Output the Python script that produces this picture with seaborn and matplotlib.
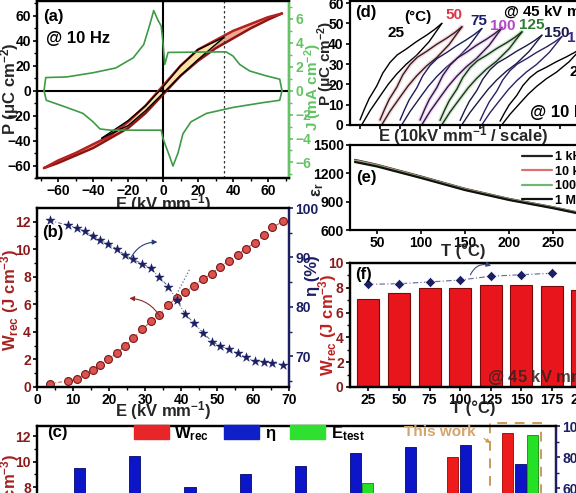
import numpy as np
import pandas as pd
import seaborn as sns
import matplotlib.pyplot as plt
from matplotlib.patches import Rectangle, Patch

W, H = 576, 493

# ---------------- data ----------------
# (a) bipolar P-E loop (outer, 68 kV/mm) and inner loop (35 kV/mm), 10 Hz
pe_rise_E = [-68, -60, -40, -20, -10, 0, 10, 20, 30, 40, 50, 60, 68]
pe_rise_P = [-62, -58, -46, -30, -18, -3, 12, 24, 34, 42, 50, 57, 62]
pe_fall_E = [68, 60, 40, 20, 10, 0, -10, -20, -30, -40, -50, -60, -68]
pe_fall_P = [62, 59, 48, 33, 20, 4, -12, -25, -36, -43, -50, -56, -62]
pe_in_rise_E = [-35, -20, -10, 0, 10, 20, 35]
pe_in_rise_P = [-38, -28, -16, -2, 12, 25, 43]
pe_in_fall_E = [35, 20, 10, 0, -10, -20, -35]
pe_in_fall_P = [43, 33, 20, 3, -12, -24, -38]
# current density J-E
j_rise_E = [-68, -67, -55, -40, -27, -17, -11, -7.6, -5.3, -2.9, -1, 0, 1, 2.9, 36, 40, 43.8, 49.5, 59, 66.7, 68]
j_rise_J = [0, 1.1, 1.15, 1.5, 1.9, 2.75, 3.86, 5.5, 6.7, 5.9, 5.4, 4.0, 2.2, 3.2, 3.25, 2.9, 2.2, 1.65, 1.24, 0.96, 0]
j_fall_E = [68, 66.7, 57, 40, 24.8, 16, 11.4, 8.6, 5.7, 3.8, 1, 0, -1, -30, -36, -40, -45.7, -55, -66.7, -68]
j_fall_J = [0, -0.8, -1.0, -1.4, -1.9, -2.6, -3.6, -5.2, -6.3, -5.5, -4.4, -4.0, -3.3, -3.3, -3.2, -2.6, -1.9, -1.4, -0.8, 0]

# (b) W_rec and eta vs E
b_E = [3.5, 8.6, 11.0, 13.3, 15.6, 17.5, 19.8, 22.1, 24.4, 26.7, 29.3, 31.6, 34.0, 36.5,
       38.8, 41.1, 43.5, 46.1, 48.6, 50.9, 53.2, 55.7, 58.1, 60.6, 63.0, 65.3, 68.3]
b_W = [0.24, 0.44, 0.61, 0.93, 1.22, 1.59, 2.0, 2.44, 2.98, 3.54, 4.2, 4.76, 5.24, 5.98,
       6.46, 6.88, 7.32, 7.85, 8.24, 8.73, 9.15, 9.61, 10.05, 10.49, 11.02, 11.59, 12.02]
b_eta = [97.5, 96.5, 96.0, 95.3, 94.4, 93.5, 92.8, 91.7, 90.5, 89.6, 88.7, 87.8, 86.0, 84.1,
         81.4, 78.6, 76.8, 74.8, 73.0, 72.1, 71.4, 70.6, 69.8, 69.0, 68.8, 68.7, 68.3]

# (d) unipolar loops at 45 kV/mm, 25 C loop shape + end polarisation per temperature
d_temps = [25, 50, 75, 100, 125, 150, 175, 200]
d_pmax = [50, 48.3, 47.5, 47.8, 45.8, 44.2, 43.5, 38]
d_dis_E = [0, 2.5, 5, 9.2, 12.5, 16.5, 20.5, 25.6, 31, 36.6, 41, 45]
d_dis_P = [2.5, 8, 13, 19.2, 25.5, 30.8, 34.5, 37.5, 41, 44.2, 47, 50]
d_chg_E = [0.9, 5.5, 11, 15.5, 20.1, 25.5, 31, 38, 45]
d_chg_P = [0, 7, 14.2, 20, 25, 30, 34.2, 41, 50]
d_shift = 11

# (e) permittivity vs T
e_T = [25, 50, 100, 150, 200, 250, 280]
e_1k = [1342, 1290, 1166, 1036, 929, 841, 781]
e_10k = [1336, 1285, 1161, 1032, 925, 838, 778]
e_100k = [1330, 1280, 1157, 1028, 922, 835, 776]
e_1M = [1320, 1273, 1151, 1023, 918, 831, 773]

# (f) W_rec and eta vs T at 45 kV/mm
f_T = ['25', '50', '75', '100', '125', '150', '175', '200']
f_W = [7.12, 7.58, 8.0, 7.96, 8.25, 8.2, 8.12, 7.85]
f_eta = [82.8, 83.3, 84.7, 86.3, 89.3, 90.6, 91.7, np.nan]

# (c) comparison with other works
c_W = [np.nan] * 7 + [10.4, 12.25]
c_eta = [72.9, 80.9, 60.4, 69.3, 74.4, 82.8, 86.2, 88.0, 75.3]
c_Etest = [np.nan] * 5 + [63.2, np.nan, np.nan, 94.0]

# ---------------- style ----------------
sns.set_theme(style="ticks")
plt.rcParams['font.family'] = ['Liberation Sans', 'DejaVu Sans']
plt.rcParams.update({
    'font.weight': 'bold', 'axes.labelweight': 'bold',
    'mathtext.fontset': 'custom', 'mathtext.bf': 'Liberation Sans:bold',
    'mathtext.rm': 'Liberation Sans:bold', 'mathtext.it': 'Liberation Sans:bold:italic',
    'mathtext.default': 'bf',
    'axes.linewidth': 1.6, 'axes.edgecolor': 'black',
    'xtick.color': 'black', 'ytick.color': 'black', 'text.color': 'black',
    'xtick.labelsize': 10, 'ytick.labelsize': 10,
    'xtick.major.size': 3, 'ytick.major.size': 3,
    'xtick.minor.size': 2, 'ytick.minor.size': 2,
    'xtick.major.width': 1.2, 'ytick.major.width': 1.2,
    'xtick.major.pad': 1.0, 'ytick.major.pad': 1.5,
})

fig = plt.figure(figsize=(5.76, 4.93), dpi=100)


def rect(x0, y0, x1, y1):
    return [x0 / W, 1 - y1 / H, (x1 - x0) / W, (y1 - y0) / H]


def ftext(x, y, s, **kw):
    kw.setdefault('va', 'center')
    fig.text(x / W, 1 - y / H, s, **kw)


def put_label(ax, axis, x, y):
    pos = ax.get_position()
    fx = (x / W - pos.x0) / pos.width
    fy = ((1 - y / H) - pos.y0) / pos.height
    (ax.xaxis if axis == 'x' else ax.yaxis).set_label_coords(fx, fy)


RED = '#a52222'
NAVY = '#1b1f63'
GREEN_L = '#62c462'
LAB = 12

# ---------------- (a) ----------------
axa = fig.add_axes(rect(37, 1, 289, 178))
axa.fill(pe_rise_E + pe_fall_E, pe_rise_P + pe_fall_P, color='#f0a890', lw=0)
axa.fill(pe_in_rise_E + pe_in_fall_E, pe_in_rise_P + pe_in_fall_P, color='#f8e2a4', lw=0)
sns.lineplot(x=pe_rise_E, y=pe_rise_P, sort=False, color='#8e1414', lw=1.8, ax=axa)
sns.lineplot(x=pe_fall_E, y=pe_fall_P, sort=False, color='#b52020', lw=1.8, ax=axa)
sns.lineplot(x=pe_in_rise_E, y=pe_in_rise_P, sort=False, color='black', lw=1.0, ax=axa)
sns.lineplot(x=pe_in_fall_E, y=pe_in_fall_P, sort=False, color='black', lw=1.0, ax=axa)
axa.axhline(0, color='black', lw=1.5, zorder=1)
axa.axvline(0, color='black', lw=1.5, zorder=1)
axa.axvline(35, color='#333333', lw=0.9, ls=(0, (2, 2)))
axa.set_xlim(-72, 72)
axa.set_ylim(-70, 72)
axa.set_xticks(range(-60, 61, 20))
axa.set_xticks(range(-70, 71, 10), minor=True)
axa.set_yticks(range(-60, 61, 20))
axa.set_yticks(range(-70, 71, 10), minor=True)
axa.set_xlabel('E (kV mm$^{-1}$)', fontsize=LAB, va='center')
axa.set_ylabel('P (μC cm$^{-2}$)', fontsize=LAB, va='center')
put_label(axa, 'x', 163, 204)
put_label(axa, 'y', 10, 89)

axj = axa.twinx()
sns.lineplot(x=j_rise_E, y=j_rise_J, sort=False, color='#3f9a45', lw=1.2, ax=axj)
sns.lineplot(x=j_fall_E, y=j_fall_J, sort=False, color='#3f9a45', lw=1.2, ax=axj)
axj.set_ylim(-7.3, 7.5)
axj.set_yticks(range(-6, 7, 2))
axj.set_yticks(range(-7, 8, 1), minor=True)
axj.spines['right'].set_color(GREEN_L)
axj.tick_params(axis='y', which='both', colors=GREEN_L)
axj.set_ylabel('J (mA cm$^{-2}$)', fontsize=11, color=GREEN_L, va='center')
put_label(axj, 'y', 313, 87)
ftext(43, 16, '(a)', fontsize=12)
ftext(46, 38, '@ 10 Hz', fontsize=12)

# ---------------- (b) ----------------
axb = fig.add_axes(rect(37, 208, 289, 387))
sns.lineplot(x=b_E, y=b_W, color='#c05050', lw=0.7, ls=(0, (4, 2, 1, 2)), ax=axb)
sns.scatterplot(x=b_E, y=b_W, color='#d9534f', edgecolor='#7d1414', linewidth=0.8, s=32, ax=axb, zorder=3)
axb.plot([37.9, 42.5], [6.3, 8.6], ls=':', color='#5a6a8a', lw=0.9)
axb.annotate('', xy=(24.9, 6.45), xytext=(34.6, 4.9),
             arrowprops=dict(arrowstyle='-|>', color='#8a2a2a', lw=0.8, mutation_scale=7,
                             connectionstyle='arc3,rad=0.3'))
axb.set_xlim(0, 70)
axb.set_ylim(0, 13)
axb.set_xticks(range(0, 71, 10))
axb.set_xticks(range(5, 70, 10), minor=True)
axb.set_yticks(range(0, 13, 2))
axb.set_yticks(range(1, 13, 2), minor=True)
axb.tick_params(axis='y', which='both', labelcolor='#8b1a1a')
axb.set_xlabel('E (kV mm$^{-1}$)', fontsize=LAB, va='center')
axb.set_ylabel('W$_{rec}$ (J cm$^{-3}$)', fontsize=LAB, color=RED, va='center')
put_label(axb, 'x', 163, 411)
put_label(axb, 'y', 10, 300)

axbe = axb.twinx()
sns.lineplot(x=b_E, y=b_eta, color='#55608a', lw=0.7, ls=(0, (4, 2, 1, 2)), ax=axbe)
sns.scatterplot(x=b_E, y=b_eta, marker='*', color=NAVY, edgecolor=NAVY, linewidth=0.3, s=48, ax=axbe, zorder=3)
axbe.annotate('', xy=(34.2, 93.1), xytext=(25.6, 89.2),
              arrowprops=dict(arrowstyle='-|>', color='#2a3a7a', lw=0.8, mutation_scale=7,
                              connectionstyle='arc3,rad=-0.35'))
axbe.set_ylim(63.8, 100)
axbe.set_yticks([70, 80, 90, 100])
axbe.set_yticks([65, 75, 85, 95], minor=True)
axbe.spines['right'].set_color(NAVY)
axbe.tick_params(axis='y', which='both', colors=NAVY)
axbe.set_ylabel('η (%)', fontsize=LAB, color=NAVY, va='center')
put_label(axbe, 'y', 312, 276)
ftext(42, 233, '(b)', fontsize=12)

# ---------------- (d) ----------------
axd = fig.add_axes(rect(350, 1, 662, 125))
d_line = ['black', '#2b1f2b', '#1c1c5c', '#2a1a3a', '#1f2f1f', '#1a1a4a', '#2c2266', 'black']
d_halo = [None, '#f08a8a', None, '#d48ae6', '#7cc47c', None, None, None]
for i, pm in enumerate(d_pmax):
    k = pm / d_pmax[0]
    off = i * d_shift
    xs1 = [e + off for e in d_dis_E]
    ys1 = [p * k for p in d_dis_P]
    xs2 = [e + off for e in d_chg_E]
    ys2 = [p * k for p in d_chg_P]
    if d_halo[i]:
        for xs, ys in ((xs1, ys1), (xs2, ys2)):
            axd.plot(xs, ys, color=d_halo[i], lw=3.0, alpha=0.35, solid_capstyle='round')
    sns.lineplot(x=xs1, y=ys1, sort=False, color=d_line[i], lw=1.0, ax=axd)
    sns.lineplot(x=xs2, y=ys2, sort=False, color=d_line[i], lw=1.0, ax=axd)
axd.set_xlim(-5.5, 166)
axd.set_ylim(0, 61)
axd.set_yticks(range(0, 61, 10))
axd.set_xticks(range(0, 166, d_shift))
axd.set_xticklabels([])
axd.set_xlabel('E (10kV mm$^{-1}$ / scale)', fontsize=LAB, va='center')
axd.set_ylabel('P (μC cm$^{-2}$)', fontsize=11, va='center')
put_label(axd, 'x', 463, 136)
put_label(axd, 'y', 326, 63)
ftext(355, 12, '(d)', fontsize=12)
ftext(404, 17, '(°C)', fontsize=11)
ftext(388, 33, '25', fontsize=11)
ftext(445, 15, '50', fontsize=11, color='#d83a4a')
ftext(470, 21, '75', fontsize=11, color='#1c1c6c')
ftext(490, 26, '100', fontsize=11, color='#b547c8')
ftext(519, 25, '125', fontsize=11, color='#2e7d32')
ftext(544, 33, '150', fontsize=11, color='#1a1a4a')
ftext(567, 38, '175', fontsize=11, color='#3a2a8a')
ftext(570, 72, '200', fontsize=11)
ftext(503, 12, '@ 45 kV mm$^{-1}$', fontsize=11)
ftext(530, 112, '@ 10 Hz', fontsize=12)

# ---------------- (e) ----------------
axe = fig.add_axes(rect(350, 145, 662, 230))
e_freq = ['1 kHz', '10 kHz', '100 kHz', '1 MHz']
e_df = pd.DataFrame({
    'T': e_T * 4,
    'eps': e_1k + e_10k + e_100k + e_1M,
    'f': [f for f in e_freq for _ in e_T],
})
sns.lineplot(data=e_df, x='T', y='eps', hue='f', hue_order=e_freq,
             palette=['#222222', '#e07070', '#70b870', '#111111'], lw=1.6, ax=axe)
axe.set_xlim(19.3, 373.8)
axe.set_ylim(600, 1500)
axe.set_xticks(range(50, 351, 50))
axe.set_yticks([600, 900, 1200, 1500])
axe.legend(loc='upper left', bbox_to_anchor=(0.53, 1.0), frameon=False, fontsize=9,
           handlelength=2.4, handletextpad=0.3, labelspacing=0.2, borderpad=0)
axe.set_xlabel('T (°C)', fontsize=LAB, va='center')
axe.set_ylabel('ε$_r$', fontsize=LAB, va='center')
put_label(axe, 'x', 463, 251)
put_label(axe, 'y', 318, 190)
ftext(356, 177, '(e)', fontsize=12)

# ---------------- (f) ----------------
axf = fig.add_axes(rect(350, 263, 662, 387))
sns.barplot(x=f_T, y=f_W, color='#e8161c', saturation=1, edgecolor='#7a0a0a', linewidth=0.8,
            width=0.72, ax=axf)
axf.set_xlim(-0.6, 9.6)
axf.set_ylim(0, 10)
axf.set_yticks(range(0, 11, 2))
axf.set_yticks(range(1, 10, 2), minor=True)
axf.tick_params(axis='y', which='both', labelcolor='#8b1a1a')
axf.set_xlabel('T (°C)', fontsize=LAB, va='center')
axf.set_ylabel('W$_{rec}$ (J cm$^{-3}$)', fontsize=LAB, color='#c01f1f', va='center')
put_label(axf, 'x', 473, 408)
put_label(axf, 'y', 328, 325)
axf2 = axf.twinx()
f_pos = list(range(len(f_T)))
sns.lineplot(x=f_pos, y=f_eta, color='#5a6a9a', lw=0.8, ls=(0, (5, 2, 1, 2)), ax=axf2)
sns.scatterplot(x=f_pos, y=f_eta, marker='D', color=NAVY, s=28, ax=axf2, zorder=3)
axf2.annotate('', xy=(4.1, 97), xytext=(3.3, 88.5),
              arrowprops=dict(arrowstyle='-|>', color='#3a4a7a', lw=0.8, mutation_scale=7,
                              connectionstyle='arc3,rad=-0.5'))
axf2.set_ylim(0, 100)
axf2.set_xlim(-0.6, 9.6)
ftext(355, 275, '(f)', fontsize=12)
ftext(487, 377, '@ 45 kV mm$^{-1}$', fontsize=12, color='#3a2020', alpha=0.85)

# ---------------- (c) ----------------
axc = fig.add_axes(rect(37, 426, 556, 589))
c_pos = np.arange(len(c_eta))
axc.bar(c_pos - 0.227, c_W, width=0.2, color='#ee1b1b', edgecolor='#a00000', linewidth=0.6)
axc.set_xlim(-0.78, 8.65)
axc.set_ylim(0, 12.8)
axc.set_yticks(range(0, 13, 2))
axc.set_yticks(range(1, 13, 2), minor=True)
axc.set_xticks([])
axc.tick_params(axis='y', which='both', labelcolor='#8b1a1a')
axc.set_ylabel('W$_{rec}$ (J cm$^{-3}$)', fontsize=LAB, color=RED, va='center')
put_label(axc, 'y', 10, 505)
axc2 = axc.twinx()
axc2.bar(c_pos, c_eta, width=0.2, color='#0c16c8', edgecolor='#00086a', linewidth=0.6)
axc2.bar(c_pos + 0.227, c_Etest, width=0.2, color='#26e026', edgecolor='#0a8a0a', linewidth=0.6)
axc2.set_ylim(-5, 100)
axc2.set_yticks(range(0, 101, 20))
axc2.set_yticks(range(10, 100, 20), minor=True)
axc2.spines['right'].set_color(NAVY)
axc2.tick_params(axis='y', which='both', colors=NAVY)
axc2.add_patch(Rectangle((7.45, -4), 0.93, 106, fill=False, ls=(0, (5, 4)), lw=1.4,
                         edgecolor='#c99a5a', clip_on=False))
axc2.annotate('', xy=(7.5, 88), xytext=(7.3, 93),
              arrowprops=dict(arrowstyle='-|>', color='#c99a5a', lw=0.8, mutation_scale=6))
axc2.legend(handles=[Patch(color='#e8262a', label='W$_{rec}$'),
                     Patch(color='#1020c8', label='η'),
                     Patch(color='#30e030', label='E$_{test}$')],
            loc='center left', bbox_to_anchor=(0.17, 0.955), ncol=3, frameon=False, fontsize=12,
            handlelength=2.1, handleheight=0.95, handletextpad=0.35, columnspacing=0.9, borderpad=0)
ftext(47, 433, '(c)', fontsize=12)
ftext(404, 432, 'This work', fontsize=11, color='#d4a56a')

fig.savefig('out.png', dpi=100)
